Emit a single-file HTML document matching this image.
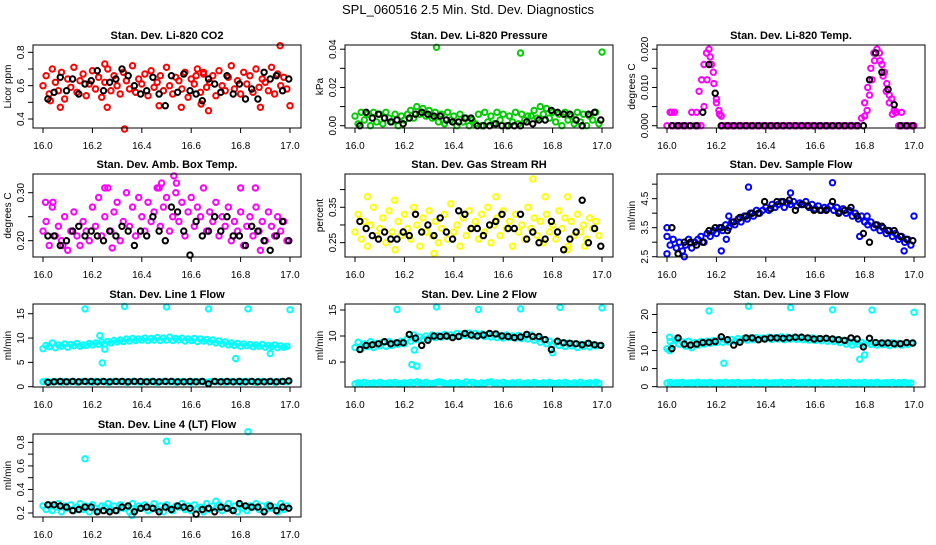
<!DOCTYPE html>
<html><head><meta charset="utf-8">
<style>
html,body{margin:0;padding:0;background:#fff;}
svg text{font-family:"Liberation Sans",Arial,sans-serif;}
</style></head>
<body>
<svg id="chart" width="936" height="540" viewBox="0 0 936 540" xmlns="http://www.w3.org/2000/svg">
<rect x="0" y="0" width="936" height="540" fill="#fff"/>
<text x="468" y="14" text-anchor="middle" font-size="13">SPL_060516  2.5 Min. Std. Dev. Diagnostics</text>
</svg>
<script>
const tColor = [16.0,16.0125,16.025,16.0375,16.05,16.0625,16.075,16.0875,16.1,16.1125,16.125,16.1375,16.15,16.1625,16.175,16.1875,16.2,16.2125,16.225,16.2375,16.25,16.2625,16.275,16.2875,16.3,16.3125,16.325,16.3375,16.35,16.3625,16.375,16.3875,16.4,16.4125,16.425,16.4375,16.45,16.4625,16.475,16.4875,16.5,16.5125,16.525,16.5375,16.55,16.5625,16.575,16.5875,16.6,16.6125,16.625,16.6375,16.65,16.6625,16.675,16.6875,16.7,16.7125,16.725,16.7375,16.75,16.7625,16.775,16.7875,16.8,16.8125,16.825,16.8375,16.85,16.8625,16.875,16.8875,16.9,16.9125,16.925,16.9375,16.95,16.9625,16.975,16.9875];
const tBlack = [16.02,16.045,16.07,16.095,16.12,16.145,16.17,16.195,16.22,16.245,16.27,16.295,16.32,16.345,16.37,16.395,16.42,16.445,16.47,16.495,16.52,16.545,16.57,16.595,16.62,16.645,16.67,16.695,16.72,16.745,16.77,16.795,16.82,16.845,16.87,16.895,16.92,16.945,16.97,16.995];
const xTicks = [16.0,16.2,16.4,16.6,16.8,17.0];
const xTickLabels = ["16.0","16.2","16.4","16.6","16.8","17.0"];

const co2Color = [0.60,0.66,0.55,0.70,0.62,0.57,0.68,0.52,0.64,0.59,0.71,0.56,0.63,0.67,0.54,0.61,0.69,0.58,0.65,0.53,0.62,0.70,0.57,0.66,0.60,0.55,0.68,0.63,0.58,0.72,0.56,0.64,0.61,0.67,0.54,0.69,0.59,0.62,0.66,0.57,0.71,0.60,0.55,0.65,0.63,0.58,0.68,0.53,0.64,0.61,0.70,0.56,0.67,0.59,0.62,0.66,0.54,0.69,0.60,0.57,0.65,0.72,0.58,0.63,0.55,0.68,0.61,0.66,0.56,0.70,0.59,0.64,0.62,0.57,0.71,0.55,0.67,0.60,0.65,0.58];
const co2OutT = [16.03,16.07,16.25,16.26,16.33,16.47,16.56,16.64,16.67,16.65,16.62,16.96,17.0,16.88];
const co2OutV = [0.51,0.47,0.73,0.47,0.34,0.48,0.47,0.49,0.45,0.68,0.66,0.84,0.48,0.47];
const co2Black = [0.52,0.56,0.65,0.57,0.64,0.55,0.61,0.63,0.69,0.57,0.62,0.64,0.70,0.66,0.60,0.55,0.57,0.65,0.55,0.48,0.66,0.56,0.67,0.57,0.55,0.51,0.64,0.61,0.56,0.66,0.55,0.61,0.52,0.58,0.52,0.68,0.64,0.66,0.57,0.64];

const presColor = [0.005,0.001,0.007,0.003,0.006,0.000,0.007,0.002,0.006,0.001,0.007,0.004,0.002,0.006,0.000,0.005,0.003,0.006,0.008,0.004,0.010,0.006,0.009,0.005,0.008,0.004,0.007,0.002,0.006,0.001,0.007,0.003,0.005,0.000,0.006,0.002,0.004,0.000,0.003,0.001,0.006,0.000,0.007,0.002,0.005,0.001,0.007,0.003,0.006,0.000,0.005,0.002,0.007,0.001,0.006,0.003,0.005,0.005,0.008,0.004,0.010,0.006,0.009,0.004,0.007,0.002,0.006,0.000,0.007,0.003,0.005,0.001,0.007,0.002,0.006,0.000,0.005,0.003,0.007,0.001];
const presOutT = [16.33,16.67,17.0];
const presOutV = [0.041,0.038,0.0385];
const presBlack = [0.000,0.007,0.004,0.006,0.004,0.002,0.003,0.001,0.004,0.006,0.007,0.006,0.005,0.005,0.003,0.002,0.002,0.004,0.004,0.000,0.000,0.000,0.001,0.000,0.000,0.000,0.000,0.002,0.001,0.003,0.003,0.008,0.007,0.006,0.006,0.003,0.000,0.006,0.007,0.003];

const tempColor = [0,0.0035,0,0,0,0,0,0,0.0035,0,0,0,0.005,0.012,0.018,0.014,0.007,0.003,0,0,0,0,0,0,0,0,0,0,0,0,0,0,0,0,0,0,0,0,0,0,0,0,0,0,0,0,0,0,0,0,0,0,0,0,0,0,0,0,0,0,0,0,0,0.002,0.006,0.010,0.015,0.019,0.020,0.017,0.013,0.009,0.006,0.003,0.0035,0,0,0,0,0];
const tempOutT = [16.13,16.14,16.15,16.16,16.17,16.18,16.19,16.2,16.21,16.22,16.12,16.02,16.03,16.8,16.81,16.82,16.83,16.84,16.86,16.87,16.88,16.89,16.90,16.91,16.92,16.93,16.95,17.0];
const tempOutV = [0.009,0.012,0.016,0.019,0.020,0.016,0.011,0.006,0.004,0.0025,0.0035,0.0035,0.0035,0.0025,0.004,0.008,0.012,0.017,0.019,0.016,0.014,0.011,0.008,0.007,0.004,0.0035,0.0035,0];
const tempBlack = [0,0,0,0,0,0.0035,0.016,0.0085,0,0,0,0,0,0,0,0,0,0,0,0,0,0,0,0,0,0,0,0,0,0,0,0,0.012,0.019,0.014,0.0095,0.0055,0,0,0];

const ambColor = [0.22,0.24,0.19,0.27,0.21,0.23,0.20,0.25,0.18,0.22,0.26,0.21,0.19,0.24,0.22,0.20,0.27,0.23,0.29,0.21,0.25,0.31,0.22,0.26,0.28,0.20,0.24,0.30,0.23,0.27,0.21,0.29,0.25,0.22,0.28,0.24,0.26,0.31,0.23,0.27,0.29,0.22,0.25,0.30,0.24,0.28,0.21,0.26,0.29,0.23,0.27,0.25,0.31,0.22,0.26,0.24,0.28,0.21,0.25,0.23,0.27,0.20,0.24,0.22,0.26,0.19,0.23,0.25,0.21,0.27,0.22,0.24,0.20,0.26,0.23,0.21,0.25,0.22,0.24,0.20];
const ambOutT = [16.53,16.54,16.25,16.47,16.48,16.86,16.80,16.08,16.88,16.28,16.01,16.04];
const ambOutV = [0.335,0.32,0.31,0.31,0.32,0.31,0.31,0.19,0.18,0.185,0.28,0.28];
const ambBlack = [0.21,0.21,0.19,0.20,0.22,0.23,0.21,0.22,0.21,0.20,0.22,0.21,0.23,0.22,0.19,0.22,0.21,0.25,0.22,0.20,0.27,0.26,0.22,0.17,0.24,0.21,0.22,0.25,0.22,0.25,0.21,0.21,0.19,0.23,0.22,0.20,0.18,0.21,0.24,0.20];

const rhColor = [0.28,0.33,0.26,0.31,0.24,0.30,0.35,0.27,0.29,0.32,0.25,0.34,0.28,0.23,0.31,0.27,0.33,0.29,0.26,0.35,0.30,0.24,0.32,0.28,0.34,0.27,0.31,0.25,0.29,0.33,0.26,0.36,0.28,0.30,0.24,0.32,0.27,0.34,0.29,0.31,0.26,0.33,0.28,0.35,0.25,0.30,0.32,0.27,0.34,0.29,0.31,0.24,0.33,0.28,0.30,0.26,0.35,0.29,0.32,0.27,0.31,0.25,0.33,0.28,0.30,0.26,0.34,0.29,0.32,0.24,0.31,0.27,0.33,0.28,0.30,0.26,0.32,0.29,0.31,0.27];
const rhOutT = [16.05,16.16,16.32,16.57,16.72,16.77,16.86,16.93,16.86];
const rhOutV = [0.38,0.37,0.22,0.38,0.43,0.38,0.38,0.24,0.23];
const rhBlack = [0.31,0.29,0.27,0.26,0.28,0.26,0.26,0.28,0.27,0.33,0.28,0.30,0.27,0.32,0.28,0.26,0.34,0.33,0.29,0.29,0.27,0.30,0.31,0.33,0.29,0.29,0.33,0.26,0.28,0.25,0.26,0.31,0.28,0.23,0.26,0.28,0.37,0.25,0.29,0.24];

const sfColor = [3.2,2.9,3.1,2.8,3.0,2.7,2.9,3.1,2.8,3.0,3.1,3.2,3.0,3.3,3.2,3.4,3.3,3.5,3.4,3.6,3.5,3.7,3.6,3.8,3.7,3.9,3.8,4.0,3.9,4.1,4.0,4.1,4.2,4.1,4.3,4.2,4.3,4.4,4.2,4.35,4.3,4.4,4.25,4.35,4.3,4.4,4.2,4.3,4.15,4.25,4.1,4.2,4.15,4.25,4.1,4.2,4.05,4.15,4.0,4.1,3.9,4.0,3.8,3.9,3.7,3.6,3.7,3.5,3.6,3.4,3.5,3.3,3.4,3.2,3.3,3.1,3.2,3.0,3.1,2.9];
const sfOutT = [16.0,16.0,16.07,16.22,16.24,16.33,16.50,16.67,16.78,16.81,16.96,17.0,16.25];
const sfOutV = [3.5,2.6,2.5,2.7,3.1,4.9,4.7,5.05,3.2,3.9,2.7,3.9,3.9];
const sfBlack = [3.5,2.6,3.0,3.0,2.9,3.0,3.4,3.5,3.5,3.4,3.7,3.85,3.9,4.0,4.0,4.4,4.15,4.4,4.4,4.45,4.1,4.3,4.25,4.1,4.1,4.1,4.4,4.0,4.1,4.2,3.9,3.3,3.0,3.6,3.55,3.4,3.4,3.2,3.1,3.05];

const l1Color = [7.8,8.5,8.2,9.0,8.0,8.6,8.3,8.8,8.1,8.7,8.4,8.9,8.3,8.6,8.5,8.9,8.6,9.0,8.7,9.2,8.8,9.3,9.0,9.5,9.2,9.6,9.3,9.8,9.4,9.9,9.5,9.8,9.6,10.0,9.5,9.9,9.6,10.1,9.5,10.0,9.6,10.2,9.5,9.9,9.6,10.0,9.4,9.8,9.5,9.9,9.3,9.8,9.4,9.7,9.2,9.6,9.0,9.4,8.8,9.2,8.6,9.0,8.5,8.9,8.3,8.8,8.4,8.7,8.2,8.6,8.3,8.7,8.1,8.5,8.2,8.6,8.0,8.4,8.1,8.3];
const l1Low = [1.0,1.1,0.9,1.0,1.1,1.0,0.9,1.1,1.0,1.0,1.1,0.9,1.0,1.1,1.0,1.0,0.9,1.1,1.0,1.1,1.0,0.9,1.0,1.1,1.0,1.0,1.1,0.9,1.0,1.1,1.0,1.0,0.9,1.1,1.0,1.1,1.0,0.9,1.0,1.1,1.0,1.0,1.1,0.9,1.0,1.1,1.0,1.0,0.9,1.1,1.0,1.1,1.0,0.9,1.0,1.1,1.0,1.0,1.1,0.9,1.0,1.1,1.0,1.0,0.9,1.1,1.0,1.1,1.0,0.9,1.0,1.1,1.0,1.0,1.1,0.9,1.0,1.1,1.0,1.0];
const l1OutT = [16.17,16.33,16.5,16.67,16.83,17.0,16.23,16.24,16.25,16.78,16.92];
const l1OutV = [16.0,16.5,16.4,16.0,16.0,15.8,10.5,4.9,7.7,5.8,6.8];
const l1Black = [0.9,1.0,1.1,1.0,1.1,1.0,1.1,1.1,1.0,1.1,1.0,1.1,1.1,1.0,1.1,1.1,1.0,1.1,1.0,1.1,1.1,1.0,1.0,1.1,1.0,1.1,0.6,1.1,1.0,1.1,1.0,1.1,1.0,1.1,1.0,1.0,1.1,1.0,1.1,1.2];

const l2Color = [7.8,8.8,7.5,8.5,8.0,8.9,7.8,8.6,8.1,8.8,8.0,8.9,8.2,8.7,8.4,9.0,8.5,9.5,9.0,10.2,9.3,9.8,9.4,10.0,9.6,10.2,9.7,10.1,9.8,10.3,9.9,10.2,10.0,10.5,10.0,10.4,10.1,10.6,10.0,10.5,10.1,10.4,9.9,10.3,9.8,10.2,9.7,10.1,9.6,10.2,9.7,10.0,9.6,10.1,9.5,9.9,9.4,10.2,9.2,9.6,8.8,9.3,8.5,9.0,8.3,8.8,8.2,8.7,8.0,8.6,8.1,8.5,7.8,8.4,8.0,8.5,7.9,8.3,8.1,8.2];
const l2Low = [0.8,1.0,0.9,1.1,0.8,0.9,1.0,0.8,1.1,0.9,0.8,1.0,0.9,1.1,0.8,0.9,1.0,0.8,1.1,0.9,1.2,1.0,0.9,1.1,0.8,0.9,1.0,1.2,1.1,0.9,0.8,1.0,0.9,1.1,0.8,0.9,1.2,0.8,1.1,0.9,0.8,1.0,0.9,1.1,1.2,0.9,1.0,0.8,1.1,0.9,0.8,1.0,0.9,1.1,0.8,0.9,1.0,0.8,1.1,0.9,0.8,1.0,0.9,1.1,0.8,0.9,1.0,0.8,1.1,0.9,0.8,1.0,0.9,1.1,0.8,0.9,1.0,0.8,1.1,0.9];
const l2OutT = [16.17,16.33,16.5,16.67,16.83,17.0,16.23,16.25,16.24,16.8];
const l2OutV = [15.1,15.6,15.1,15.2,15.5,15.4,4.5,4.2,7.3,6.8];
const l2Black = [7.4,8.2,8.3,8.5,8.9,8.5,8.7,8.7,10.3,9.6,8.2,9.2,10.0,9.9,10.0,9.7,9.9,10.5,10.2,10.0,10.2,10.5,10.4,10.0,9.9,9.7,9.8,10.3,9.9,9.9,9.3,7.4,9.0,8.7,8.6,8.5,8.3,8.6,8.3,8.2];

const l3Color = [10.5,12.5,11.5,13.0,11.8,12.4,11.2,12.6,10.8,12.2,11.5,12.5,11.8,12.6,12.0,12.8,12.2,13.0,12.3,12.9,12.4,13.1,12.6,13.3,12.8,13.4,12.9,13.5,13.0,13.6,13.1,13.5,13.2,13.7,13.1,13.6,13.2,13.8,13.0,13.7,13.2,13.6,13.1,13.5,13.0,13.4,12.9,13.5,12.8,13.3,12.7,13.2,12.6,13.1,12.5,13.0,12.2,12.8,11.8,12.4,11.5,12.2,11.8,12.3,11.6,12.1,11.7,12.2,11.5,12.0,11.6,12.1,11.4,12.2,11.6,12.0,11.5,11.9,11.7,12.0];
const l3Low = [1.0,1.2,0.9,1.1,1.0,1.2,0.9,1.0,1.1,1.0,1.2,0.9,1.1,1.0,1.2,0.9,1.0,1.1,1.0,1.2,0.9,1.1,1.0,1.2,0.9,1.0,1.1,1.0,1.2,0.9,1.1,1.0,1.2,0.9,1.0,1.1,1.0,1.2,0.9,1.1,1.0,1.2,0.9,1.0,1.1,1.0,1.2,0.9,1.1,1.0,1.2,0.9,1.0,1.1,1.0,1.2,0.9,1.1,1.0,1.2,0.9,1.0,1.1,1.0,1.2,0.9,1.1,1.0,1.2,0.9,1.0,1.1,1.0,1.2,0.9,1.1,1.0,1.2,0.9,1.0];
const l3OutT = [16.17,16.33,16.5,16.67,16.83,17.0,16.23,16.78,16.8,16.01,16.01];
const l3OutV = [21.0,22.3,21.9,21.3,21.2,20.6,6.5,7.6,8.8,10.0,13.7];
const l3Black = [10.5,13.5,11.8,11.5,11.8,12.2,12.3,12.5,13.8,13.0,11.5,12.3,13.5,13.5,13.0,13.2,13.5,13.5,13.4,13.5,13.7,13.7,13.5,13.2,13.3,13.4,13.2,13.0,12.8,13.5,13.2,11.0,13.4,12.2,12.1,12.1,11.9,11.9,12.2,12.1];

const l4Color = [0.26,0.23,0.27,0.22,0.25,0.28,0.21,0.26,0.24,0.27,0.22,0.25,0.28,0.23,0.26,0.21,0.27,0.24,0.22,0.26,0.25,0.28,0.23,0.26,0.22,0.27,0.24,0.25,0.21,0.28,0.23,0.26,0.24,0.27,0.22,0.25,0.28,0.23,0.26,0.21,0.27,0.24,0.22,0.26,0.25,0.28,0.23,0.26,0.22,0.27,0.24,0.25,0.21,0.28,0.23,0.26,0.24,0.27,0.22,0.25,0.28,0.23,0.26,0.21,0.27,0.24,0.22,0.26,0.25,0.28,0.23,0.26,0.22,0.27,0.24,0.25,0.21,0.28,0.23,0.26];
const l4OutT = [16.17,16.5,16.83,16.7,16.36];
const l4OutV = [0.66,0.81,0.89,0.30,0.18];
const l4Black = [0.27,0.27,0.26,0.25,0.22,0.23,0.25,0.25,0.21,0.22,0.21,0.22,0.25,0.26,0.21,0.24,0.25,0.24,0.21,0.25,0.23,0.26,0.25,0.24,0.19,0.23,0.24,0.21,0.25,0.24,0.22,0.28,0.26,0.25,0.25,0.21,0.26,0.22,0.25,0.24];

const NS = "http://www.w3.org/2000/svg";
const svg = document.getElementById("chart");
function mk(tag, attrs){ const e=document.createElementNS(NS,tag); for(const k in attrs) e.setAttribute(k,attrs[k]); return e; }

const panels = [
 {key:"co2", title:"Stan. Dev. Li-820 CO2", ylab:"Licor ppm", col:0,row:0, ylim:[0.346,0.844], ticks:[0.4,0.5,0.6,0.7,0.8], labels:{"0.4":"0.4","0.6":"0.6","0.8":"0.8"}, color:"#ff0000", c:co2Color, low:null, ot:co2OutT, ov:co2OutV, b:co2Black},
 {key:"pressure", title:"Stan. Dev. Li-820 Pressure", ylab:"kPa", col:1,row:0, ylim:[-0.0012,0.0422], ticks:[0,0.01,0.02,0.03,0.04], labels:{"0":"0.00","0.02":"0.02","0.04":"0.04"}, color:"#00cc00", c:presColor, low:null, ot:presOutT, ov:presOutV, b:presBlack},
 {key:"temp", title:"Stan. Dev. Li-820 Temp.", ylab:"degrees C", col:2,row:0, ylim:[-0.0006,0.0211], ticks:[0,0.005,0.01,0.015,0.02], labels:{"0":"0.000","0.01":"0.010","0.02":"0.020"}, color:"#ff00ff", c:tempColor, low:null, ot:tempOutT, ov:tempOutV, b:tempBlack},
 {key:"ambbox", title:"Stan. Dev. Amb. Box Temp.", ylab:"degrees C", col:0,row:1, ylim:[0.166,0.339], ticks:[0.2,0.25,0.3], labels:{"0.2":"0.20","0.3":"0.30"}, color:"#ff00ff", c:ambColor, low:null, ot:ambOutT, ov:ambOutV, b:ambBlack},
 {key:"rh", title:"Stan. Dev. Gas Stream RH", ylab:"percent", col:1,row:1, ylim:[0.2095,0.444], ticks:[0.25,0.3,0.35,0.4], labels:{"0.25":"0.25","0.35":"0.35"}, color:"#ffff00", c:rhColor, low:null, ot:rhOutT, ov:rhOutV, b:rhBlack},
 {key:"sampleflow", title:"Stan. Dev. Sample Flow", ylab:"ml/min", col:2,row:1, ylim:[2.49,5.35], ticks:[2.5,3,3.5,4,4.5,5], labels:{"2.5":"2.5","3.5":"3.5","4.5":"4.5"}, color:"#0000ff", c:sfColor, low:null, ot:sfOutT, ov:sfOutV, b:sfBlack},
 {key:"line1", title:"Stan. Dev. Line 1 Flow", ylab:"ml/min", col:0,row:2, ylim:[-0.06,17.0], ticks:[0,5,10,15], labels:{"0":"0","5":"5","10":"10","15":"15"}, color:"#00ffff", c:l1Color, low:l1Low, ot:l1OutT, ov:l1OutV, b:l1Black},
 {key:"line2", title:"Stan. Dev. Line 2 Flow", ylab:"ml/min", col:1,row:2, ylim:[0.2,16.15], ticks:[5,10,15], labels:{"5":"5","10":"10","15":"15"}, color:"#00ffff", c:l2Color, low:l2Low, ot:l2OutT, ov:l2OutV, b:l2Black},
 {key:"line3", title:"Stan. Dev. Line 3 Flow", ylab:"ml/min", col:2,row:2, ylim:[-0.1,22.9], ticks:[0,5,10,15,20], labels:{"0":"0","5":"5","10":"10","20":"20"}, color:"#00ffff", c:l3Color, low:l3Low, ot:l3OutT, ov:l3OutV, b:l3Black},
 {key:"line4", title:"Stan. Dev. Line 4 (LT) Flow", ylab:"ml/min", col:0,row:3, ylim:[0.166,0.871], ticks:[0.2,0.3,0.4,0.5,0.6,0.7,0.8], labels:{"0.2":"0.2","0.4":"0.4","0.6":"0.6","0.8":"0.8"}, color:"#00ffff", c:l4Color, low:null, ot:l4OutT, ov:l4OutV, b:l4Black}
];

const colLeft=[33,345,657], rowTop=[45,174,304,434], W=268, H=83;

panels.forEach(p=>{
  const L=colLeft[p.col], T=rowTop[p.row], B=T+H, R=L+W;
  const xs = v => L + 10 + (v-16)*247;
  const ys = v => B - (v-p.ylim[0])/(p.ylim[1]-p.ylim[0])*H;
  const g = mk("g",{});
  
  
  svg.appendChild(g);

  const title = mk("text",{x:(L+R)/2, y:T-6, "text-anchor":"middle","font-size":"11","font-weight":"bold"});
  title.textContent=p.title;
  
  
  g.appendChild(title);

  const marks = mk("g",{fill:"none","stroke-width":"2"});
  
  
  g.appendChild(marks);
  function dot(t,v,col){
    const c = mk("circle",{cx:xs(t).toFixed(1), cy:ys(v).toFixed(1), r:"2.7", stroke:col});
    
    
    marks.appendChild(c);
  }
  if(p.low) p.low.forEach((v,i)=>dot(tColor[i],v,p.color));
  p.c.forEach((v,i)=>dot(tColor[i],v,p.color));
  p.ot.forEach((t,i)=>dot(t,p.ov[i],p.color));
  p.b.forEach((v,i)=>dot(tBlack[i],v,"#000"));

  const box = mk("rect",{x:L,y:T,width:W,height:H,fill:"none",stroke:"#000","stroke-width":"1"});
  
  
  g.appendChild(box);

  const xa = mk("g",{});
  
  
  g.appendChild(xa);
  xa.appendChild(mk("line",{x1:xs(16),x2:xs(17),y1:B,y2:B,stroke:"#000"}));
  xTicks.forEach((t,i)=>{
    xa.appendChild(mk("line",{x1:xs(t),x2:xs(t),y1:B,y2:B+5,stroke:"#000"}));
    const tx=mk("text",{x:xs(t),y:B+21,"text-anchor":"middle","font-size":"10"});
    tx.textContent=xTickLabels[i];
    
    
    xa.appendChild(tx);
  });

  const ya = mk("g",{});
  
  
  g.appendChild(ya);
  const tk=p.ticks;
  ya.appendChild(mk("line",{x1:L,x2:L,y1:ys(tk[0]),y2:ys(tk[tk.length-1]),stroke:"#000"}));
  tk.forEach(v=>{
    const y=ys(v);
    ya.appendChild(mk("line",{x1:L-5,x2:L,y1:y,y2:y,stroke:"#000"}));
    const lab=p.labels[String(v)];
    if(lab){
      const tx=mk("text",{x:0,y:0,"text-anchor":"middle","font-size":"10",transform:`translate(${L-9},${y}) rotate(-90)`});
      tx.textContent=lab;
      
      
      ya.appendChild(tx);
    }
  });
  const yl=mk("text",{x:0,y:0,"text-anchor":"middle","font-size":"10",transform:`translate(${L-22},${(T+B)/2}) rotate(-90)`});
  yl.textContent=p.ylab;
  
  
  ya.appendChild(yl);
});
</script>
</body></html>
